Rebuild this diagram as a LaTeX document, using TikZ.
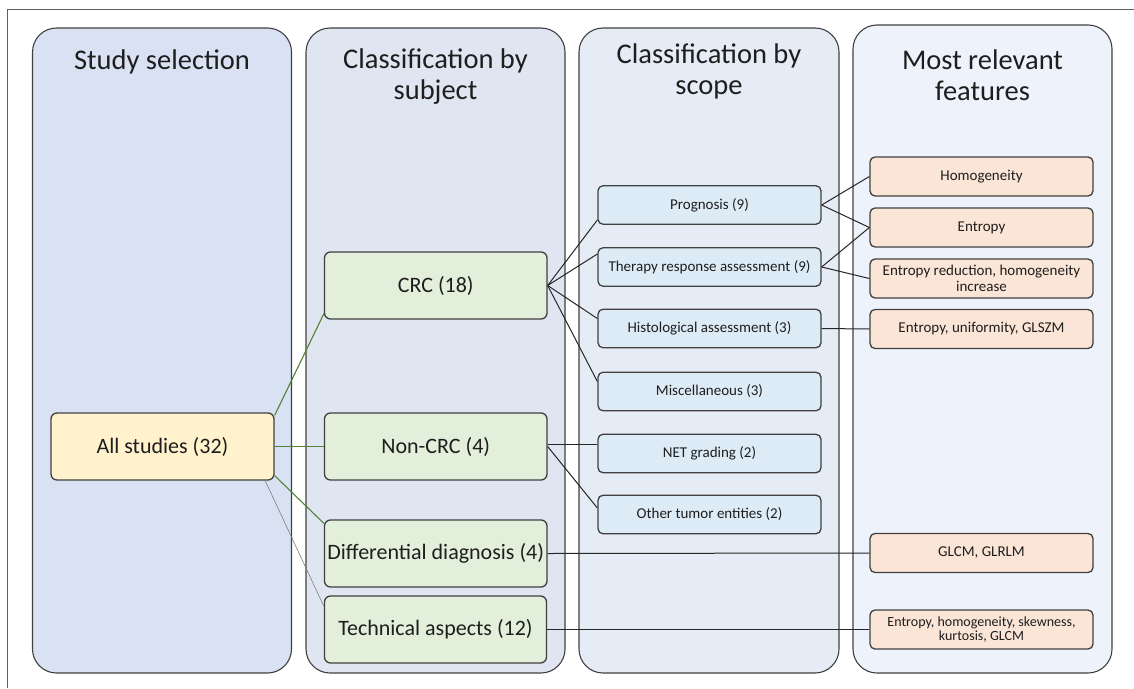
\documentclass[tikz,border=0pt]{standalone}
\usepackage{fontspec}
\setmainfont{Carlito}
\usetikzlibrary{calc}
\definecolor{colA}{HTML}{D9E2F3}
\definecolor{colB}{HTML}{DFE6F2}
\definecolor{colC}{HTML}{E6ECF6}
\definecolor{colD}{HTML}{EEF2FA}
\definecolor{colEdge}{HTML}{404040}
\definecolor{yellowF}{HTML}{FFF2CC}
\definecolor{greenF}{HTML}{E2EFDA}
\definecolor{blueF}{HTML}{DDEBF7}
\definecolor{orangeF}{HTML}{FBE5D6}
\definecolor{greenL}{HTML}{548235}
\definecolor{greyL}{HTML}{7F7F7F}
\definecolor{txt}{HTML}{1E1E1E}
\definecolor{frameC}{HTML}{606060}
\begin{document}
\begin{tikzpicture}[x=1pt,y=-1pt,
  colbox/.style={draw=colEdge, line width=1.1pt, rounded corners=24pt, rectangle, inner sep=0pt},
  coltitle/.style={text=txt, align=center, font=\fontsize{28.5}{31}\selectfont, inner sep=0pt},
  mainbox/.style={draw=colEdge, line width=1.3pt, rounded corners=6pt, rectangle, inner sep=0pt,
     minimum height=67pt, text=txt, font=\fontsize{22}{26}\selectfont},
  subbox/.style={draw=colEdge, line width=1.3pt, rounded corners=5pt, rectangle, inner sep=0pt,
     fill=blueF, minimum width=223pt, minimum height=38.5pt, text=txt, font=\fontsize{15}{16.5}\selectfont},
  featbox/.style={draw=colEdge, line width=1.3pt, rounded corners=5pt, rectangle, inner sep=0pt,
     fill=orangeF, minimum width=223pt, minimum height=39pt, text=txt, align=center,
     font=\fontsize{15}{16}\selectfont},
  link/.style={draw=black!85, line width=1pt},
  greenlink/.style={draw=greenL, line width=1.1pt},
  greylink/.style={draw=greyL, line width=0.6pt},
]
\useasboundingbox (0,0) rectangle (1134,688);
\fill[white] (0,0) rectangle (1134,688);
\draw[frameC, line width=1pt] (7.5,688) -- (7.5,9.5) -- (1134,9.5);

% columns
\node[colbox, fill=colA, minimum width=259pt, minimum height=645pt] (col1) at (162,350.5) {};
\node[colbox, fill=colB, minimum width=259pt, minimum height=645pt] (col2) at (435.5,350.5) {};
\node[colbox, fill=colC, minimum width=260pt, minimum height=645pt] (col3) at (709,350.5) {};
\node[colbox, fill=colD, minimum width=259pt, minimum height=648pt] (col4) at (982.5,349) {};

% titles
\node[coltitle] (t1) at (162,62) {Study selection};
\node[coltitle] (t2) at (435.5,77) {Classification by\\subject};
\node[coltitle] (t3) at (709,71.5) {Classification by\\scope};
\node[coltitle] (t4) at (982.5,75) {Most relevant\\features};

% level 1 and 2
\node[mainbox, fill=yellowF, minimum width=223pt] (all) at (162.5,446.5) {All studies (32)};
\node[mainbox, fill=greenF, minimum width=222.5pt] (crc) at (435.75,285.5) {CRC (18)};
\node[mainbox, fill=greenF, minimum width=222.5pt] (noncrc) at (435.75,446.5) {Non-CRC (4)};
\node[mainbox, fill=greenF, minimum width=222.5pt] (diff) at (435.75,553.5) {Differential diagnosis (4)};
\node[mainbox, fill=greenF, minimum width=222pt] (tech) at (435.5,629.5) {Technical aspects (12)};

% level 3
\node[subbox] (prog) at (709.5,205) {Prognosis (9)};
\node[subbox] (ther) at (709.5,267) {Therapy response assessment (9)};
\node[subbox] (hist) at (709.5,328.5) {Histological assessment (3)};
\node[subbox] (misc) at (709.5,391.5) {Miscellaneous (3)};
\node[subbox] (net) at (709.5,453.5) {NET grading (2)};
\node[subbox] (other) at (709.5,514.5) {Other tumor entities (2)};

% level 4
\node[featbox] (homog) at (981.5,176.5) {Homogeneity};
\node[featbox] (entr) at (981.5,227.5) {Entropy};
\node[featbox] (entred) at (981.5,278.5) {Entropy reduction, homogeneity\\increase};
\node[featbox] (entuni) at (981.5,329) {Entropy, uniformity, GLSZM};
\node[featbox] (glcm) at (981.5,553) {GLCM, GLRLM};
\node[featbox, font=\fontsize{14}{14.5}\selectfont] (skew) at (981.5,629.5) {Entropy, homogeneity, skewness,\\kurtosis, GLCM};

% connectors from all studies
\draw[greenlink] ([yshift=-3pt]all.north east) -- ([yshift=6pt]crc.south west);
\draw[greenlink] (all.east) -- (noncrc.west);
\draw[greenlink] ([yshift=5pt]all.south east) -- ([yshift=-4pt]diff.north west);
\draw[greylink] ([xshift=-9.5pt]all.south east) -- ([yshift=-11pt]tech.north west);

% CRC fan
\draw[link] (crc.east) -- ([yshift=-15pt]prog.west);
\draw[link] (crc.east) -- ([yshift=13pt]ther.west);
\draw[link] (crc.east) -- ([yshift=10pt]hist.west);
\draw[link] (crc.east) -- ([yshift=10pt]misc.west);

% Non-CRC
\draw[link] ([yshift=2.5pt]noncrc.east) -- ([yshift=9.5pt]net.west);
\draw[link] (noncrc.east) -- ([yshift=6.5pt]other.west);

% to features
\draw[link] (diff.east) -- (glcm.west);
\draw[link] (tech.east) -- (skew.west);
\draw[link] (prog.east) -- (homog.west);
\draw[link] (prog.east) -- (entr.west);
\draw[link] (ther.east) -- (entr.west);
\draw[link] (ther.east) -- (entred.west);
\draw[link] (hist.east) -- (entuni.west);
\end{tikzpicture}
\end{document}
